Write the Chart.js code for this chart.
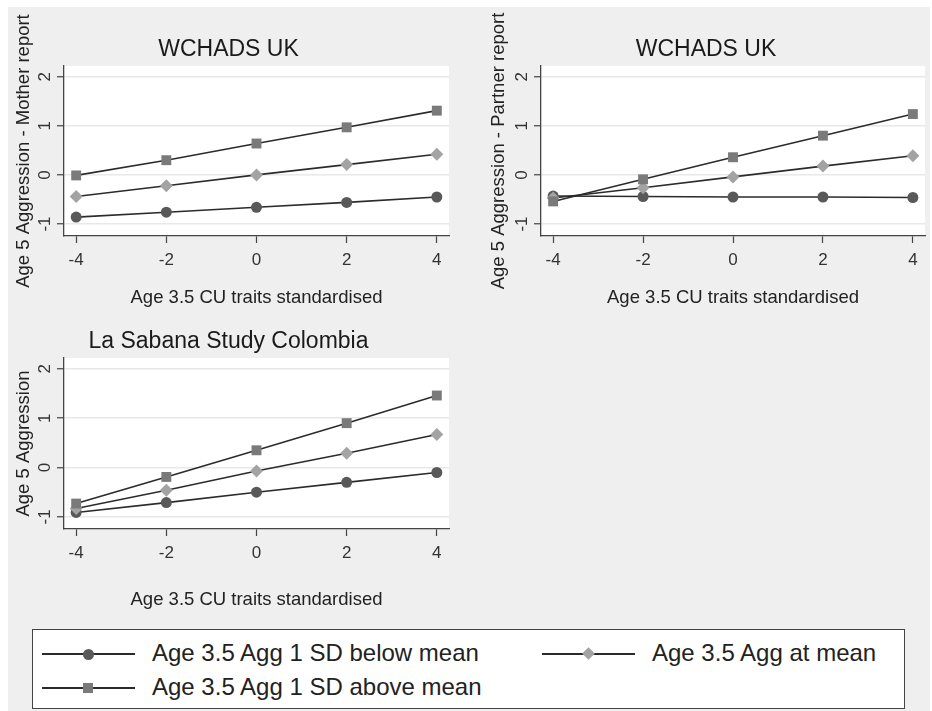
<!DOCTYPE html>
<html>
<head>
<meta charset="utf-8">
<script src="https://cdn.jsdelivr.net/npm/chart.js@4"></script>
<style>
  body { margin: 0; background: #fff; width: 932px; height: 711px; overflow: hidden; position: relative; font-family: "Liberation Sans", Arial, sans-serif; }
  #bg { position: absolute; left: 8px; top: 7px; width: 922px; height: 704px; background: #efefef; }
  canvas { position: absolute; }
  #legend { position: absolute; left: 32px; top: 629px; width: 871px; height: 78px; background: #fff; border: 1px solid #444; }
  .item { position: absolute; height: 20px; }
  .item .ln { position: absolute; top: 9px; left: 0; width: 93px; height: 2px; background: #2b2b2b; }
  .item .mk { position: absolute; }
  .item span { position: absolute; left: 110px; top: -5px; font-size: 24px; color: #222; white-space: nowrap; }
</style>
</head>
<body>
<div id="bg"></div>
<canvas id="c1" width="462" height="303" style="left:8px;top:7px"></canvas>
<canvas id="c2" width="462" height="303" style="left:470px;top:7px"></canvas>
<canvas id="c3" width="462" height="303" style="left:8px;top:310px"></canvas>
<div id="legend">
  <div class="item" style="left:9px;top:14px"><div class="ln"></div><div class="mk" style="left:41px;top:5px;width:11px;height:11px;border-radius:50%;background:#595959"></div><span>Age 3.5 Agg 1 SD below mean</span></div>
  <div class="item" style="left:509px;top:14px"><div class="ln"></div><div class="mk" style="left:42px;top:5px;width:9px;height:9px;transform:rotate(45deg);background:#a3a3a3"></div><span>Age 3.5 Agg at mean</span></div>
  <div class="item" style="left:9px;top:48px"><div class="ln"></div><div class="mk" style="left:41px;top:5px;width:10px;height:10px;background:#7a7a7a"></div><span>Age 3.5 Agg 1 SD above mean</span></div>
</div>
<script>
// x values (CU traits, standardised)
var cuTraits = [-4, -2, 0, 2, 4];
var xTicks = [-4, -2, 0, 2, 4];
var yTicks = [-1, 0, 1, 2];

// WCHADS UK - mother report
var motherBelow = [-0.86, -0.76, -0.66, -0.56, -0.45];
var motherMean  = [-0.44, -0.22, 0.00, 0.21, 0.42];
var motherAbove = [-0.01, 0.30, 0.64, 0.97, 1.31];

// WCHADS UK - partner report
var partnerBelow = [-0.43, -0.44, -0.45, -0.45, -0.46];
var partnerMean  = [-0.47, -0.26, -0.04, 0.18, 0.39];
var partnerAbove = [-0.54, -0.09, 0.36, 0.80, 1.24];

// La Sabana Study Colombia
var colBelow = [-0.91, -0.71, -0.50, -0.30, -0.10];
var colMean  = [-0.83, -0.46, -0.07, 0.29, 0.67];
var colAbove = [-0.73, -0.19, 0.35, 0.90, 1.46];

var seriesNames = ['Age 3.5 Agg 1 SD below mean', 'Age 3.5 Agg at mean', 'Age 3.5 Agg 1 SD above mean'];

var FONT = '"Liberation Sans", Arial, sans-serif';

var plotBg = {
    id: 'plotBg',
    beforeDraw: function(chart){
        var a = chart.chartArea, ctx = chart.ctx;
        ctx.save();
        ctx.fillStyle = '#fff';
        ctx.fillRect(a.left, a.top, a.right - a.left, a.bottom - a.top);
        ctx.restore();
    }
};

function pts(ys){
    return cuTraits.map(function(x, i){ return {x: x, y: ys[i]}; });
}

function ds(label, ys, style, radius, color, order){
    return {
        label: label, data: pts(ys), order: order,
        borderColor: '#2b2b2b', borderWidth: 1.6,
        pointStyle: style, pointRadius: radius, pointBorderWidth: 0,
        pointBackgroundColor: color, pointBorderColor: color
    };
}

function panel(id, title, yTitle, below, mean, above, lay){
    new Chart(document.getElementById(id), {
        type: 'line',
        data: {
            datasets: [
                ds(seriesNames[0], below, 'circle', 5.5, '#595959', 3),
                ds(seriesNames[1], mean, 'rectRot', 6.5, '#a3a3a3', 2),
                ds(seriesNames[2], above, 'rect', 7, '#7a7a7a', 1)
            ]
        },
        options: {
            responsive: false,
            animation: false,
            devicePixelRatio: 1,
            layout: { padding: { left: lay.pl, right: lay.pr, top: 0, bottom: 0 } },
            plugins: {
                legend: { display: false },
                tooltip: { enabled: false },
                title: {
                    display: true, text: title, color: '#1a1a1a',
                    font: { family: FONT, size: 23, weight: 'normal' },
                    padding: { top: lay.tt, bottom: lay.tb }
                }
            },
            scales: {
                x: {
                    type: 'linear', min: -4.27, max: 4.27,
                    afterBuildTicks: function(s){ s.ticks = xTicks.map(function(v){ return {value: v}; }); },
                    afterFit: function(s){ s.height = lay.xh; },
                    grid: { drawOnChartArea: false, tickLength: 7, tickColor: '#444', tickWidth: 1.2 },
                    border: { color: '#444', width: 1.3 },
                    ticks: { color: '#333', padding: 7, font: { family: FONT, size: 17 }, maxRotation: 0 },
                    title: { display: true, text: 'Age 3.5 CU traits standardised', color: '#222',
                             font: { family: FONT, size: 18.5 }, padding: { top: 0, bottom: lay.xtb } }
                },
                y: {
                    type: 'linear', min: -1.245, max: 2.22,
                    afterBuildTicks: function(s){ s.ticks = yTicks.map(function(v){ return {value: v}; }); },
                    afterFit: function(s){ s.width = lay.yw; },
                    grid: { color: '#e8e8e8', lineWidth: 1.5, tickLength: 7, tickColor: '#444', tickWidth: 1.2 },
                    border: { color: '#444', width: 1.3 },
                    ticks: { color: '#333', padding: 4.5, minRotation: 90, maxRotation: 90, crossAlign: 'center',
                             font: { family: FONT, size: 17 } },
                    title: { display: true, text: yTitle, color: '#222',
                             font: { family: FONT, size: 18.5 }, padding: { top: lay.ytp, bottom: 0 } }
                }
            }
        },
        plugins: [plotBg]
    });
}

panel('c1', 'WCHADS UK', 'Age 5 Aggression - Mother report', motherBelow, motherMean, motherAbove,
      { pl: 0, pr: 21, tt: 29.2, tb: 2.2, xh: 74, xtb: 1, yw: 56, ytp: 5 });
panel('c2', 'WCHADS UK', 'Age 5 Aggression - Partner report', partnerBelow, partnerMean, partnerAbove,
      { pl: 16, pr: 6, tt: 29.2, tb: 2.2, xh: 74, xtb: 1, yw: 55, ytp: 2 });
panel('c3', 'La Sabana Study Colombia', 'Age 5 Aggression', colBelow, colMean, colAbove,
      { pl: 0, pr: 21, tt: 18.2, tb: 2.2, xh: 84, xtb: 2, yw: 56, ytp: 5 });
</script>
</body>
</html>
